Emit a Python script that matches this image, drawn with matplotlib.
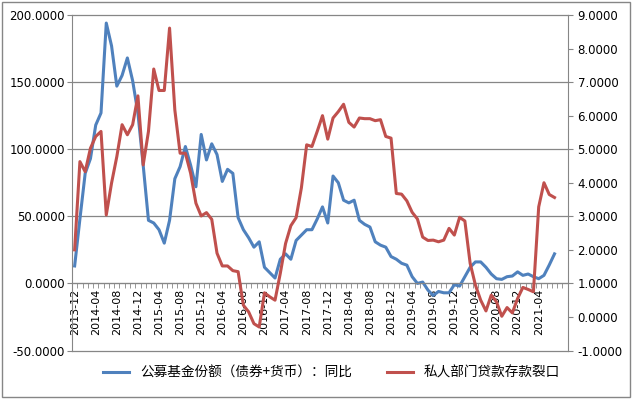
import matplotlib.pyplot as plt
import numpy as np
import pandas as pd
from matplotlib.ticker import FormatStrFormatter

plt.rcParams['font.family'] = ['DejaVu Sans']

# monthly categories 2013-12 .. 2021-07
months = pd.date_range('2013-12-01', periods=92, freq='MS').strftime('%Y-%m').tolist()

# 公募基金份额（债券+货币）：同比  (left axis)
fund_yoy = [13, 48, 82, 93, 118, 127, 194, 177, 147, 155, 168, 151, 127, 88, 47,
            45, 40, 30, 47, 78, 87, 102, 88, 72, 111, 92, 104, 96, 76, 85,
            82, 49, 40, 34, 27, 31, 12, 8, 4, 18, 22, 18, 32, 36, 40,
            40, 48, 57, 45, 80, 75, 62, 60, 62, 47, 44, 42,
            31, 28.5, 27, 20, 18, 15, 13.6, 5, 0, 1, -5, -9, -6, -7, -7, -1, -2,
            5, 12, 16, 16, 12, 7, 3.5, 3, 5, 5.5, 8.6, 6, 7, 5, 3.5, 6, 13.7, 22]

# 私人部门贷款存款裂口  (right axis)
loan_dep_gap = [2.0, 4.63, 4.33, 5.03, 5.38, 5.53, 3.04, 3.99, 4.78, 5.73, 5.43, 5.73, 6.59, 4.53, 5.53,
                7.39, 6.75, 6.75, 8.61, 6.17, 4.88, 4.88, 4.28, 3.39, 3.01, 3.11, 2.91, 1.90, 1.52, 1.52,
                1.38, 1.35, 0.35, 0.15, -0.2, -0.3, 0.72, 0.6, 0.5, 1.3, 2.19, 2.72, 2.96, 3.85, 5.13,
                5.08, 5.53, 6.0, 5.3, 5.93, 6.12, 6.34, 5.8, 5.66, 5.93, 5.91, 5.91, 5.85, 5.88, 5.38, 5.33,
                3.68, 3.66, 3.46, 3.12, 2.92, 2.38, 2.28, 2.29, 2.24, 2.29, 2.64, 2.44, 2.97, 2.86, 1.6,
                0.95, 0.5, 0.18, 0.65, 0.45, 0.02, 0.28, 0.12, 0.55, 0.88, 0.82, 0.75, 3.28, 4.0, 3.65, 3.56]

legend_labels = ['公募基金份额（债券+货币）：同比', '私人部门贷款存款裂口']

x = np.arange(len(months))
grey = '#868686'

fig = plt.figure(figsize=(6.32, 3.99), dpi=100)
ax = fig.add_axes([72 / 632, 1 - 350.5 / 399, (567.7 - 72) / 632, (350.5 - 15) / 399])
ax2 = ax.twinx()

l1, = ax.plot(x, fund_yoy, color='#4F81BD', lw=2.2)
l2, = ax2.plot(x, loan_dep_gap, color='#C0504D', lw=2.2)

ax.set_xlim(-0.5, 93.45)
ax.set_ylim(-50, 200)
ax2.set_ylim(-1, 9)
ax.set_yticks(np.arange(-50, 201, 50))
ax2.set_yticks(np.arange(-1, 10, 1))
ax.yaxis.set_major_formatter(FormatStrFormatter('%.4f'))
ax2.yaxis.set_major_formatter(FormatStrFormatter('%.4f'))

ax.grid(axis='y', color=grey, lw=0.9)
for gl in ax.get_ygridlines():
    gl.set_clip_on(False)
ax.set_axisbelow(True)

# category axis crosses at 0
ax.spines['bottom'].set_position(('data', 0))
ax.spines['bottom'].set_color(grey)
ax.spines['left'].set_color(grey)
ax.spines['top'].set_visible(False)
ax.spines['right'].set_visible(False)
for s in ['left', 'top', 'bottom']:
    ax2.spines[s].set_visible(False)
ax2.spines['right'].set_color(grey)

ax.set_xticks(x[::4])
ax.set_xticklabels(months[::4], rotation=90, fontsize=8)
ax.set_xticks(np.arange(-0.5, 94, 1), minor=True)
ax.tick_params(axis='x', which='major', length=0, pad=4)
ax.tick_params(axis='x', which='minor', length=3.6, color=grey, direction='out')
ax.tick_params(axis='y', length=3.6, color=grey, pad=1.5, labelsize=8.5)
ax2.tick_params(axis='y', length=3.6, color=grey, pad=3.5, labelsize=8.5)

fig.legend([l1, l2], legend_labels, loc='center', bbox_to_anchor=(0.525, 0.065), ncol=2,
           frameon=False, handlelength=1.9, columnspacing=2.6,
           prop={'family': ['Noto Sans CJK SC', 'DejaVu Sans'], 'size': 9.8})

fig.add_artist(plt.Rectangle((0.003, 0.005), 0.994, 0.99, transform=fig.transFigure,
                             fill=False, ec=grey, lw=1))

fig.savefig('out.png', dpi=100)
